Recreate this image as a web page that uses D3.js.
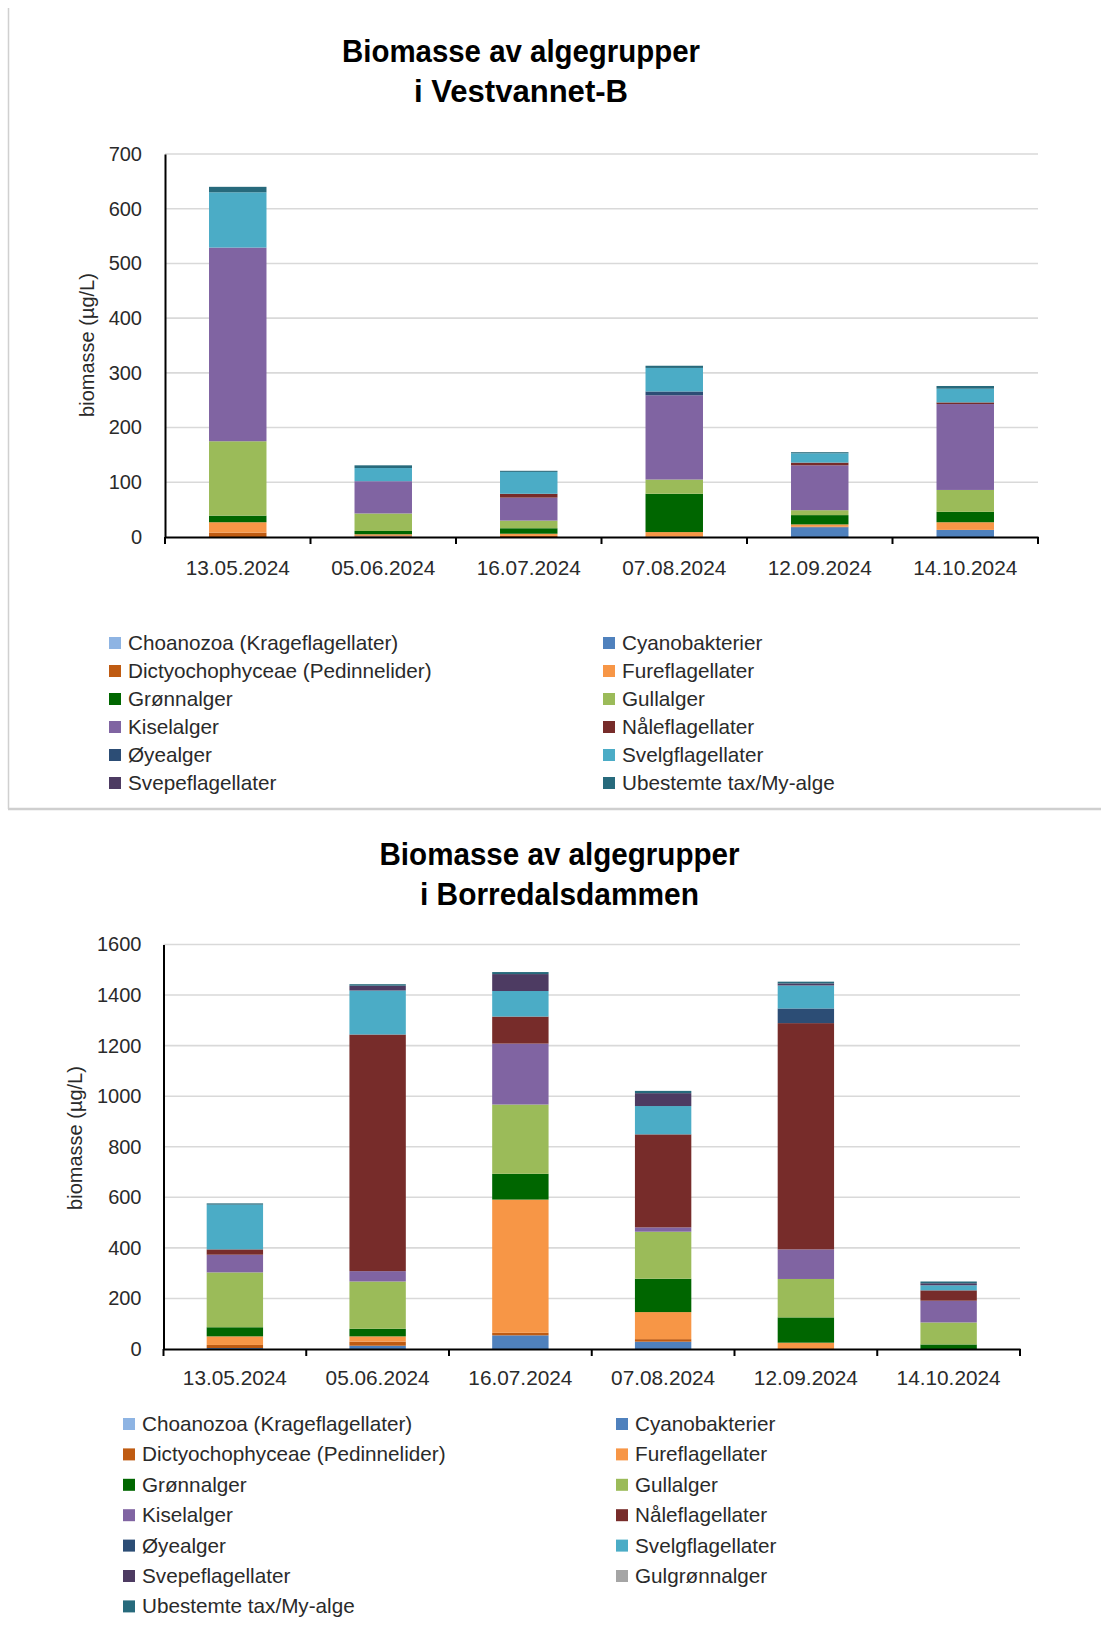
<!DOCTYPE html>
<html><head><meta charset="utf-8">
<script src="https://cdn.jsdelivr.net/npm/d3@7"></script>
<style>body{margin:0;background:#fff}</style>
</head><body><svg id="c" width="1101" height="1636"></svg>
<script>
// ---------- categories ----------
const dates = ["13.05.2024","05.06.2024","16.07.2024","07.08.2024","12.09.2024","14.10.2024"];

// ---------- group names & colours ----------
const groupNames = ["Choanozoa (Krageflagellater)","Cyanobakterier","Dictyochophyceae (Pedinnelider)","Fureflagellater","Grønnalger","Gullalger","Kiselalger","Nåleflagellater","Øyealger","Svelgflagellater","Svepeflagellater","Gulgrønnalger","Ubestemte tax/My-alge"];
const groupColors = ["#8EB4E3","#4F81BD","#BF5B12","#F79646","#006600","#9BBB59","#8064A2","#772C2A","#2C4D75","#4BACC6","#4D3B62","#A5A5A5","#276A7C"];

// ---------- Vestvannet-B (µg/L) ----------
const vestChoanozoa   = [0, 0, 0, 0, 0, 0];
const vestCyano       = [0, 1, 0, 0, 18, 13];
const vestDictyo      = [8, 2, 2, 1, 1, 0];
const vestFure        = [19, 2, 4, 8, 4, 14];
const vestGronn       = [12, 6, 10, 70, 17, 19];
const vestGull        = [136, 32, 14, 26, 9, 40];
const vestKisel       = [354, 59, 42, 154, 82, 157];
const vestNale        = [0, 0, 7, 0, 5, 3];
const vestOye         = [0, 0, 0, 7, 0, 0];
const vestSvelg       = [101, 24, 40, 43, 17, 25];
const vestSvepe       = [0, 0, 0, 0, 0, 0];
const vestUbestemte   = [10, 5, 2, 4, 2, 5];

// ---------- Borredalsdammen (µg/L) ----------
const borrChoanozoa   = [0, 0, 0, 0, 0, 0];
const borrCyano       = [4, 13, 54, 29, 0, 0];
const borrDictyo      = [12, 16, 10, 10, 0, 0];
const borrFure        = [34, 21, 527, 107, 25, 0];
const borrGronn       = [36, 30, 102, 132, 100, 18];
const borrGull        = [217, 187, 274, 186, 152, 87];
const borrKisel       = [70, 41, 241, 17, 117, 86];
const borrNale        = [21, 936, 107, 368, 895, 41];
const borrOye         = [0, 0, 0, 0, 58, 0];
const borrSvelg       = [177, 174, 101, 112, 91, 20];
const borrSvepe       = [0, 19, 67, 51, 8, 8];
const borrGulgronn    = [0, 0, 0, 0, 0, 0];
const borrUbestemte   = [5, 6, 8, 9, 7, 7];

// ---------- tick labels ----------
const vestTicks = [0, 100, 200, 300, 400, 500, 600, 700];
const borrTicks = [0, 200, 400, 600, 800, 1000, 1200, 1400, 1600];

const colorOf = {};
groupNames.forEach((n, i) => colorOf[n] = groupColors[i]);

const vestSeries = [
  ["Choanozoa (Krageflagellater)", vestChoanozoa],
  ["Cyanobakterier", vestCyano],
  ["Dictyochophyceae (Pedinnelider)", vestDictyo],
  ["Fureflagellater", vestFure],
  ["Grønnalger", vestGronn],
  ["Gullalger", vestGull],
  ["Kiselalger", vestKisel],
  ["Nåleflagellater", vestNale],
  ["Øyealger", vestOye],
  ["Svelgflagellater", vestSvelg],
  ["Svepeflagellater", vestSvepe],
  ["Ubestemte tax/My-alge", vestUbestemte]
];
const borrSeries = [
  ["Choanozoa (Krageflagellater)", borrChoanozoa],
  ["Cyanobakterier", borrCyano],
  ["Dictyochophyceae (Pedinnelider)", borrDictyo],
  ["Fureflagellater", borrFure],
  ["Grønnalger", borrGronn],
  ["Gullalger", borrGull],
  ["Kiselalger", borrKisel],
  ["Nåleflagellater", borrNale],
  ["Øyealger", borrOye],
  ["Svelgflagellater", borrSvelg],
  ["Svepeflagellater", borrSvepe],
  ["Gulgrønnalger", borrGulgronn],
  ["Ubestemte tax/My-alge", borrUbestemte]
];

const svg = d3.select("#c");
svg.append("rect").attr("width", 1101).attr("height", 1636).attr("fill", "#fff");

// panel border of the top chart
svg.append("line").attr("x1", 8.5).attr("x2", 8.5).attr("y1", 8).attr("y2", 809).attr("stroke", "#d0d0d0").attr("stroke-width", 1.5);
svg.append("line").attr("x1", 8).attr("x2", 1101).attr("y1", 809).attr("y2", 809).attr("stroke", "#cfcfcf").attr("stroke-width", 2.5);

const FONT = "'Liberation Sans', Arial, sans-serif";

function drawChart(o) {
  const g = svg.append("g");
  const x = d3.scaleBand().domain(dates).range([o.x0, o.x1]).padding(0);
  const y = d3.scaleLinear().domain([0, o.yMax]).range([o.yBottom, o.yTop]);

  // title
  o.title.forEach((t, i) => {
    g.append("text").attr("x", o.titleX).attr("y", o.titleY[i])
      .attr("text-anchor", "middle").attr("font-family", FONT).attr("font-weight", "bold")
      .attr("font-size", 31).attr("fill", "#000")
      .attr("textLength", o.titleW[i]).attr("lengthAdjust", "spacingAndGlyphs")
      .text(t);
  });

  // gridlines
  g.append("g").selectAll("line").data(o.ticks.filter(v => v > 0)).join("line")
    .attr("x1", o.x0).attr("x2", o.x1)
    .attr("y1", d => y(d)).attr("y2", d => y(d))
    .attr("stroke", "#d9d9d9").attr("stroke-width", 1.6);

  // stacked bars
  const rows = dates.map((d, i) => {
    const r = { date: d };
    o.series.forEach(s => r[s[0]] = s[1][i]);
    return r;
  });
  const stacked = d3.stack().keys(o.series.map(s => s[0]))(rows);
  const bw = x.bandwidth() * 0.395;
  g.append("g").selectAll("g").data(stacked).join("g")
    .attr("fill", d => colorOf[d.key])
    .selectAll("rect").data(d => d).join("rect")
    .attr("x", d => x(d.data.date) + (x.bandwidth() - bw) / 2)
    .attr("width", bw)
    .attr("y", d => y(d[1]))
    .attr("height", d => Math.max(0, y(d[0]) - y(d[1])));

  // y axis
  const ya = g.append("g").attr("transform", `translate(${o.x0},0)`)
    .call(d3.axisLeft(y).tickValues(o.ticks).tickSize(0).tickPadding(o.yPad).tickFormat(d3.format("d")));
  ya.select(".domain").attr("stroke", "#000").attr("stroke-width", 2);
  ya.selectAll("text").attr("font-family", FONT).attr("font-size", 20).attr("fill", "#2a2a2a");

  // x axis
  const xa = g.append("g").attr("transform", `translate(0,${o.yBottom})`)
    .call(d3.axisBottom(x).tickSize(0).tickPadding(o.xPad));
  xa.select(".domain").attr("stroke", "#000").attr("stroke-width", 2);
  xa.selectAll("text").attr("font-family", FONT).attr("font-size", 20.8).attr("fill", "#2a2a2a");
  const bounds = dates.map(d => x(d)).concat([x(dates[dates.length - 1]) + x.bandwidth()]);
  xa.append("g").selectAll("line").data(bounds).join("line")
    .attr("x1", d => d).attr("x2", d => d).attr("y1", 0).attr("y2", 7)
    .attr("stroke", "#000").attr("stroke-width", 2);

  // y title
  g.append("text").attr("transform", `translate(${o.yTitleX},${o.yTitleY}) rotate(-90)`)
    .attr("text-anchor", "middle").attr("font-family", FONT).attr("font-size", 20).attr("fill", "#2a2a2a")
    .text("biomasse (µg/L)");

  // legend
  const lg = g.append("g");
  o.series.forEach((s, i) => {
    const col = i % 2, row = Math.floor(i / 2);
    const lx = o.legX[col], ly = o.legY + row * o.legStep;
    lg.append("rect").attr("x", lx).attr("y", ly - 6).attr("width", 12).attr("height", 12).attr("fill", colorOf[s[0]]);
    lg.append("text").attr("x", lx + 19).attr("y", ly + 7)
      .attr("font-family", FONT).attr("font-size", 20.7).attr("fill", "#2a2a2a").text(s[0]);
  });
}

drawChart({
  series: vestSeries, yMax: 700, ticks: vestTicks,
  x0: 165, x1: 1038, yTop: 154, yBottom: 537,
  yPad: 23, xPad: 23,
  title: ["Biomasse av algegrupper", "i Vestvannet-B"], titleX: 521, titleY: [62, 102], titleW: [358, 214],
  yTitleX: 94, yTitleY: 345,
  legX: [109, 603], legY: 643, legStep: 28
});

drawChart({
  series: borrSeries, yMax: 1600, ticks: borrTicks,
  x0: 163.5, x1: 1020, yTop: 944.5, yBottom: 1349,
  yPad: 22, xPad: 21,
  title: ["Biomasse av algegrupper", "i Borredalsdammen"], titleX: 559.5, titleY: [865, 905], titleW: [360, 279],
  yTitleX: 82, yTitleY: 1138,
  legX: [123, 616], legY: 1424, legStep: 30.4
});
</script>
</body></html>
